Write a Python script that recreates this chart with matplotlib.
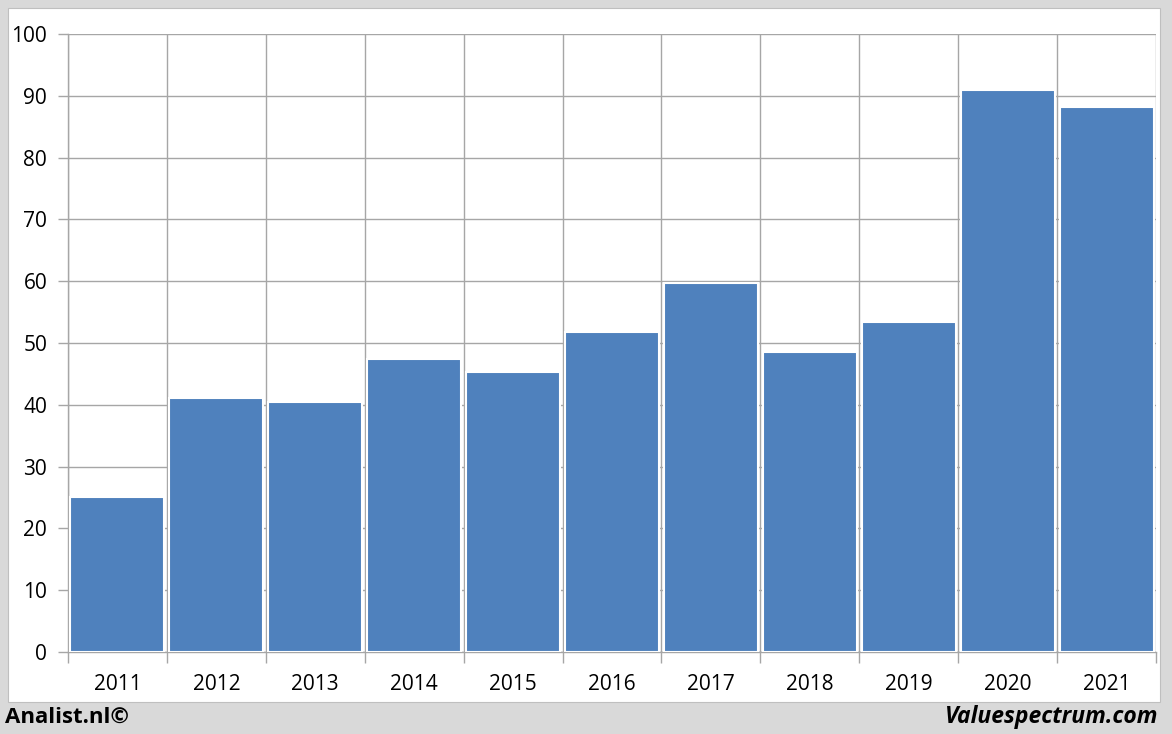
import matplotlib.pyplot as plt
from matplotlib.patches import Rectangle
import numpy as np

years = ["2011", "2012", "2013", "2014", "2015", "2016",
         "2017", "2018", "2019", "2020", "2021"]
values = [25.1, 41.1, 40.5, 47.4, 45.3, 51.8, 59.7, 48.5, 53.4, 90.9, 88.2]
y_ticks = [0, 10, 20, 30, 40, 50, 60, 70, 80, 90, 100]

W, H = 1172, 734
BAR_COLOR = "#4F81BD"
GRID_COLOR = "#A6A6A6"

plt.rcParams["font.family"] = ["Open Sans", "DejaVu Sans"]

fig = plt.figure(figsize=(W / 100, H / 100), dpi=100, facecolor="#D9D9D9")

# white chart panel, kept behind the axes
fig.patches.append(Rectangle((8 / W, 1 - 702 / H), (1160 - 8) / W, (702 - 8) / H,
                             transform=fig.transFigure, facecolor="white",
                             edgecolor="#BFBFBF", linewidth=0.8, zorder=-10))

ax = fig.add_axes([68 / W, 1 - 652 / H, (1156 - 68) / W, (652 - 34) / H])
ax.set_zorder(5)
ax.set_facecolor("none")

x = np.arange(len(years))
ax.bar(x, values, width=0.95, color=BAR_COLOR, edgecolor="white",
       linewidth=1.5, zorder=3)

ax.set_xlim(-0.5, len(years) - 0.5)
ax.set_ylim(0, 100)
ax.set_yticks(y_ticks)
ax.set_xticks(x)
ax.set_xticklabels(years)
ax.set_xticks(np.arange(-0.5, len(years)), minor=True)

ax.grid(axis="y", color=GRID_COLOR, linewidth=1, zorder=0)
ax.grid(axis="x", which="minor", color=GRID_COLOR, linewidth=1, zorder=0)

ax.tick_params(axis="x", which="major", length=0, pad=16, labelsize=15)
ax.tick_params(axis="x", which="minor", length=8, color=GRID_COLOR, width=1)
ax.tick_params(axis="y", length=7, color=GRID_COLOR, width=1, pad=8, labelsize=15)

for side in ["top", "right"]:
    ax.spines[side].set_visible(False)
for side in ["left", "bottom"]:
    ax.spines[side].set_color(GRID_COLOR)
    ax.spines[side].set_linewidth(1)

fig.text(5 / W, 1 - 717 / H, "Analist.nl©", fontsize=16, fontweight="bold",
         ha="left", va="center", color="black")
fig.text(1158 / W, 1 - 717 / H, "Valuespectrum.com", fontsize=16.5, fontweight="bold",
         fontstyle="italic", ha="right", va="center", color="black")

fig.savefig("out.png", dpi=100, facecolor=fig.get_facecolor())
